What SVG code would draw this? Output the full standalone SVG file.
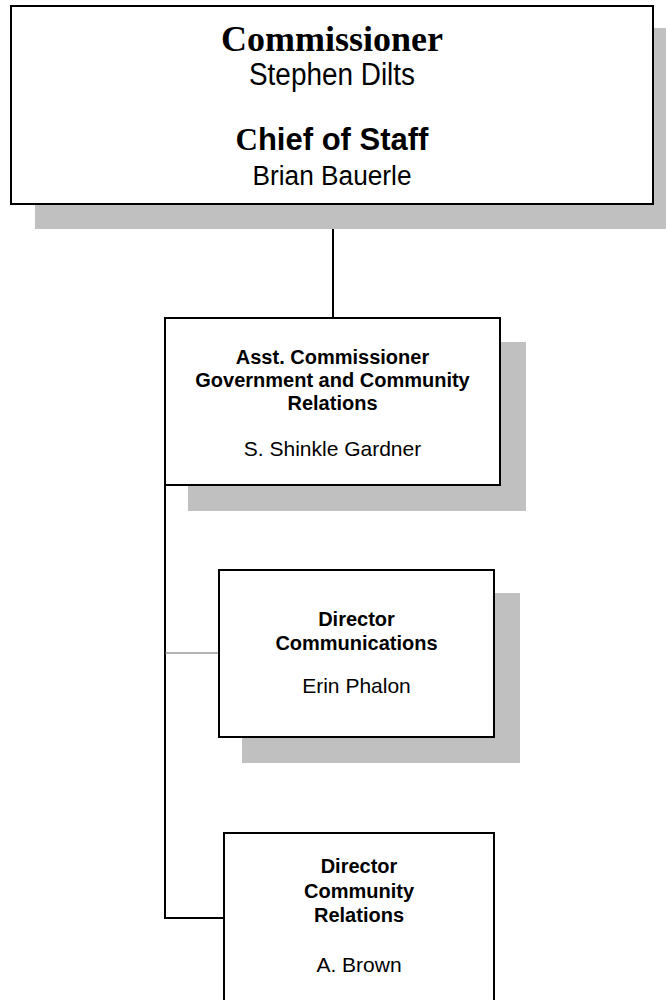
<svg xmlns="http://www.w3.org/2000/svg" width="666" height="1000" viewBox="0 0 666 1000">
<style>
.shadow{fill:#C0C0C0;stroke:none}
.box{fill:#FFFFFF;stroke:#000000;stroke-width:2}
.conn{fill:none;stroke:#000000;stroke-width:2}
.thin{fill:none;stroke:#666666;stroke-width:1}
.t{font-family:"Liberation Sans",Arial,sans-serif;text-anchor:middle;fill:#000000}
.b{font-weight:bold;font-size:20px}
.n{font-size:21px}
</style>
<rect width="666" height="1000" fill="#FFFFFF"/>
<g id="connectors">
<line class="conn" x1="333" y1="204" x2="333" y2="318"/>
<polyline class="conn" points="165,485 165,918 224,918"/>
<line class="thin" x1="165" y1="653" x2="219" y2="653"/>
</g>
<g id="commissioner">
<rect class="shadow" x="35" y="28" width="631" height="201"/>
<rect class="box" x="11" y="6" width="642" height="198"/>
<text x="332" y="51" text-anchor="middle" font-family="'Liberation Serif','Times New Roman',serif" font-weight="bold" font-size="36">Commissioner</text>
<text class="t" x="332" y="85" font-size="31" textLength="166" lengthAdjust="spacingAndGlyphs">Stephen Dilts</text>
<text class="t" x="332" y="150" font-size="31" font-weight="bold"><tspan font-family="'Liberation Serif','Times New Roman',serif">C</tspan>hief of Staff</text>
<text class="t" x="332" y="185" font-size="27" textLength="159" lengthAdjust="spacingAndGlyphs">Brian Bauerle</text>
</g>
<g id="asst-commissioner">
<rect class="shadow" x="188" y="342" width="338" height="169"/>
<rect class="box" x="165" y="318" width="335" height="167"/>
<text class="t b" x="332.5" y="364">Asst. Commissioner</text>
<text class="t b" x="332.5" y="387">Government and Community</text>
<text class="t b" x="332.5" y="410">Relations</text>
<text class="t n" x="332.5" y="456">S. Shinkle Gardner</text>
</g>
<g id="director-communications">
<rect class="shadow" x="242" y="593" width="278" height="170"/>
<rect class="box" x="219" y="570" width="275" height="167"/>
<text class="t b" x="356.5" y="626">Director</text>
<text class="t b" x="356.5" y="650">Communications</text>
<text class="t n" x="356.5" y="693">Erin Phalon</text>
</g>
<g id="director-community-relations">
<rect class="box" x="224" y="833" width="270" height="180"/>
<text class="t b" x="359" y="873">Director</text>
<text class="t b" x="359" y="898">Community</text>
<text class="t b" x="359" y="922">Relations</text>
<text class="t n" x="359" y="972">A. Brown</text>
</g>
</svg>
